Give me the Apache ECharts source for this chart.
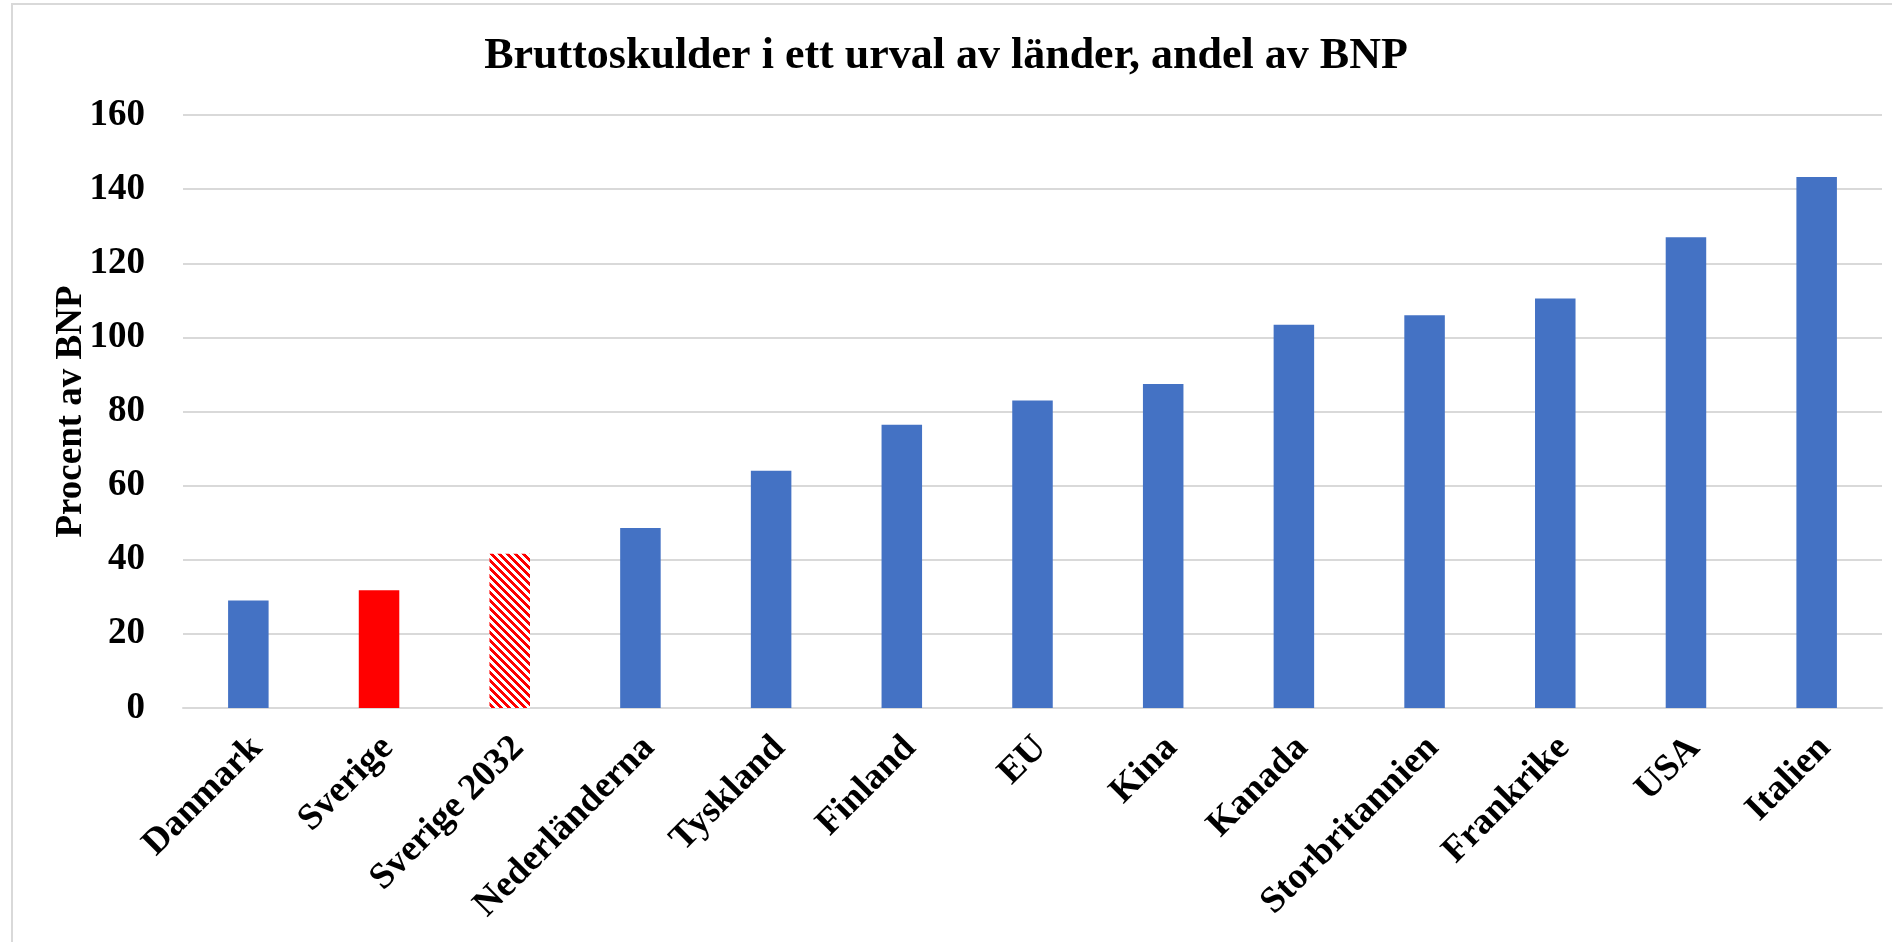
<!DOCTYPE html>
<html>
<head>
<meta charset="utf-8">
<script src="https://cdn.jsdelivr.net/npm/echarts@6/dist/echarts.min.js"></script>
<style>
html,body{margin:0;padding:0;background:#fff;}
#chart{width:1892px;height:942px;}
</style>
</head>
<body>
<div id="chart"></div>
<script>
const categories = ['Danmark','Sverige','Sverige 2032','Nederländerna','Tyskland','Finland','EU','Kina','Kanada','Storbritannien','Frankrike','USA','Italien'];
const values = [29, 31.8, 41.6, 48.6, 64, 76.4, 83, 87.4, 103.4, 106, 110.5, 127, 143.3];
const yTicks = [0, 20, 40, 60, 80, 100, 120, 140, 160];
const titleText = 'Bruttoskulder i ett urval av länder, andel av BNP';
const yAxisName = 'Procent av BNP';
const solidRed = ['Sverige'];
const hatchedRed = ['Sverige 2032'];

const FONT = '"Liberation Serif", "Times New Roman", serif';
const BLUE = '#4472c4';
const RED = '#ff0000';

function hatchPattern() {
  const c = document.createElement('canvas');
  c.width = 8; c.height = 8;
  const ctx = c.getContext('2d');
  ctx.fillStyle = '#ffffff';
  ctx.fillRect(0, 0, 8, 8);
  ctx.fillStyle = RED;
  for (let y = 0; y < 8; y++) {
    for (let x = 0; x < 8; x++) {
      if (((x - y + 16) % 8) < 4) ctx.fillRect(x, y, 1, 1);
    }
  }
  return c;
}
const pattern = { image: hatchPattern(), repeat: 'repeat' };

const seriesData = values.map((v, i) => {
  const name = categories[i];
  let color = BLUE;
  if (solidRed.includes(name)) color = RED;
  if (hatchedRed.includes(name)) color = pattern;
  return { value: v, itemStyle: { color: color } };
});

const chart = echarts.init(document.getElementById('chart'), null, { renderer: 'canvas' });
chart.setOption({
  backgroundColor: '#ffffff',
  animation: false,
  title: {
    text: titleText,
    left: 'center',
    top: 30,
    textStyle: { fontFamily: FONT, fontWeight: 'bold', fontSize: 44, color: '#000' }
  },
  graphic: [{
    type: 'rect',
    z: -10,
    shape: { x: 12, y: 4, width: 1900, height: 1000 },
    style: { fill: 'none', stroke: '#d9d9d9', lineWidth: 2 }
  }],
  grid: { left: 183, right: 10, top: 115, bottom: 234, containLabel: false },
  xAxis: {
    type: 'category',
    data: categories,
    axisTick: { show: false },
    axisLine: { lineStyle: { color: '#d9d9d9', width: 2 } },
    axisLabel: {
      interval: 0,
      rotate: 45,
      margin: 26,
      lineHeight: 24,
      formatter: function (v) { return ' \n' + v; },
      fontFamily: FONT,
      fontWeight: 'bold',
      fontSize: 37,
      color: '#000'
    }
  },
  yAxis: {
    type: 'value',
    min: yTicks[0],
    max: yTicks[yTicks.length - 1],
    interval: 20,
    name: yAxisName,
    nameLocation: 'middle',
    nameRotate: 90,
    nameGap: 93,
    nameMoveOverlap: false,
    nameTextStyle: { fontFamily: FONT, fontWeight: 'bold', fontSize: 37, color: '#000' },
    axisLine: { show: false },
    axisTick: { show: false },
    splitLine: { lineStyle: { color: '#d9d9d9', width: 2 } },
    axisLabel: {
      margin: 38,
      fontFamily: FONT,
      fontWeight: 'bold',
      fontSize: 37,
      color: '#000'
    }
  },
  series: [{
    type: 'bar',
    data: seriesData,
    barWidth: '31%'
  }]
});
</script>
</body>
</html>
